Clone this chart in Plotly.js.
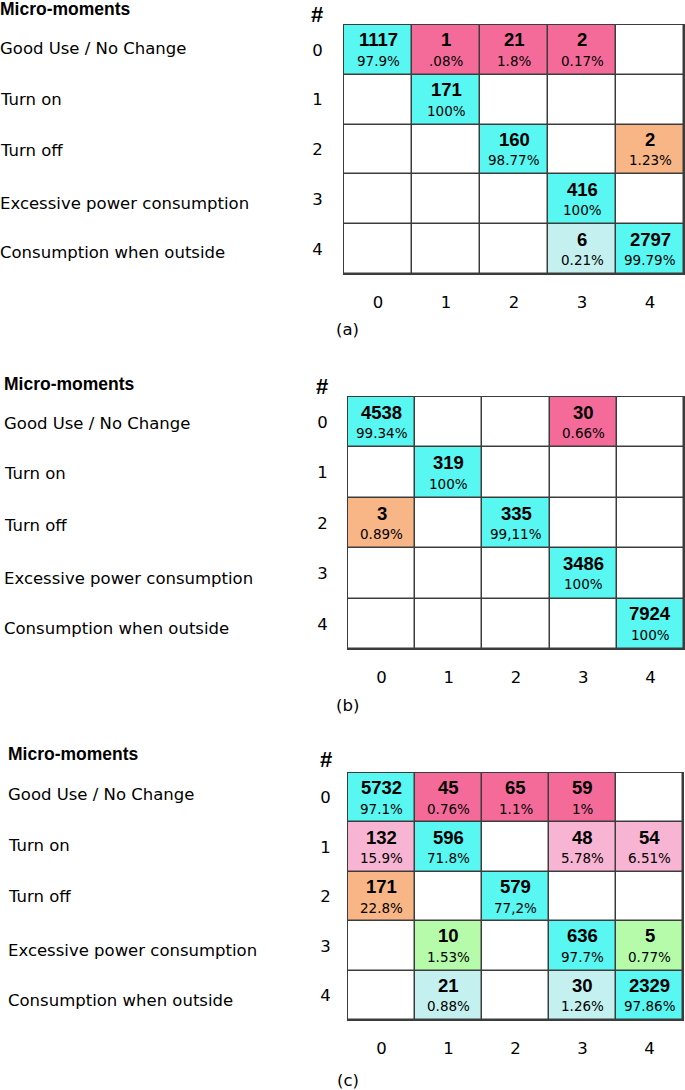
<!DOCTYPE html>
<html>
<head>
<meta charset="utf-8">
<script src="https://cdn.plot.ly/plotly-3.0.1.min.js"></script>
<style>html,body{margin:0;padding:0;background:#fff;}#chart{width:685px;height:1090px;}</style>
</head>
<body>
<div id="chart"></div>
<script>
// ---- data ----
const classLabels = ["Good Use / No Change", "Turn on", "Turn off", "Excessive power consumption", "Consumption when outside"];
const classIds = ["0", "1", "2", "3", "4"];
const panelTags = ["(a)", "(b)", "(c)"];

const countsA = [
  [1117, 1, 21, 2, null],
  [null, 171, null, null, null],
  [null, null, 160, null, 2],
  [null, null, null, 416, null],
  [null, null, null, 6, 2797]
];
const pctA = [
  ["97.9%", ".08%", "1.8%", "0.17%", null],
  [null, "100%", null, null, null],
  [null, null, "98.77%", null, "1.23%"],
  [null, null, null, "100%", null],
  [null, null, null, "0.21%", "99.79%"]
];
const countsB = [
  [4538, null, null, 30, null],
  [null, 319, null, null, null],
  [3, null, 335, null, null],
  [null, null, null, 3486, null],
  [null, null, null, null, 7924]
];
const pctB = [
  ["99.34%", null, null, "0.66%", null],
  [null, "100%", null, null, null],
  ["0.89%", null, "99,11%", null, null],
  [null, null, null, "100%", null],
  [null, null, null, null, "100%"]
];
const countsC = [
  [5732, 45, 65, 59, null],
  [132, 596, null, 48, 54],
  [171, null, 579, null, null],
  [null, 10, null, 636, 5],
  [null, 21, null, 30, 2329]
];
const pctC = [
  ["97.1%", "0.76%", "1.1%", "1%", null],
  ["15.9%", "71.8%", null, "5.78%", "6.51%"],
  ["22.8%", null, "77,2%", null, null],
  [null, "1.53%", null, "97.7%", "0.77%"],
  [null, "0.88%", null, "1.26%", "97.86%"]
];

// ---- styling ----
const W = 685, H = 1090;
const GRID = '#3c3c3c';
const colorscale = [
  [0, '#ffffff'],        // empty
  [1/6, '#58f7f2'],      // diagonal
  [2/6, '#f46b9a'],      // row 0 errors
  [3/6, '#f8b5d3'],      // row 1 errors
  [4/6, '#f8b585'],      // row 2 errors
  [5/6, '#b5fba9'],      // row 3 errors
  [1, '#c4f1ef']         // row 4 errors
];
const panels = [
  {counts: countsA, pct: pctA, box: [344, 684, 25, 274], labelX: -2, labelY: [9.5, 48, 99, 150, 203, 252], hashX: 317, hashY: 14, tagX: 348, tagY: 330, ylen: 17},
  {counts: countsB, pct: pctB, box: [348, 684, 397, 649], labelX: 2, labelY: [384, 423, 474, 525, 578, 628], hashX: 322, hashY: 387, tagX: 348, tagY: 705, ylen: 16},
  {counts: countsC, pct: pctC, box: [348, 683, 773, 1020], labelX: 6, labelY: [754, 794, 845, 896, 950, 1000], hashX: 326, hashY: 759, tagX: 348, tagY: 1080, ylen: 13}
];

const px = x => x / W;
const py = y => 1 - y / H;

const traces = [];
const annotations = [];
const layout = {
  width: W, height: H,
  margin: {l: 0, r: 0, t: 0, b: 0},
  paper_bgcolor: '#ffffff',
  plot_bgcolor: GRID,
  showlegend: false,
  font: {family: 'DejaVu Sans', color: '#000'},
  annotations: annotations
};

panels.forEach((p, k) => {
  const sfx = k === 0 ? '' : String(k + 1);
  const xa = 'x' + sfx, ya = 'y' + sfx;
  const z = p.counts.map((row, i) => row.map((v, j) => v === null ? 0 : (i === j ? 1 : i + 2)));
  traces.push({
    type: 'heatmap', xaxis: xa, yaxis: ya,
    x: [0, 1, 2, 3, 4], y: [0, 1, 2, 3, 4], z: z,
    zmin: 0, zmax: 6, colorscale: colorscale, showscale: false,
    xgap: 1.5, ygap: 1.5, hoverinfo: 'skip'
  });
  layout['xaxis' + sfx] = {
    domain: [px(p.box[0]), px(p.box[1])], anchor: ya,
    range: [-0.5, 4.5], fixedrange: true,
    tickvals: [0, 1, 2, 3, 4], ticktext: classIds,
    ticks: 'outside', ticklen: 13, tickcolor: 'rgba(0,0,0,0)',
    tickfont: {family: 'DejaVu Sans', size: 16.5, color: '#000'},
    showgrid: false, zeroline: false,
    showline: true, mirror: true, linecolor: GRID, linewidth: 1
  };
  layout['yaxis' + sfx] = {
    domain: [py(p.box[3]), py(p.box[2])], anchor: xa,
    range: [4.5, -0.5], fixedrange: true,
    tickvals: [0, 1, 2, 3, 4], ticktext: classIds,
    ticks: 'outside', ticklen: p.ylen, tickcolor: 'rgba(0,0,0,0)',
    tickfont: {family: 'DejaVu Sans', size: 16.5, color: '#000'},
    showgrid: false, zeroline: false,
    showline: true, mirror: true, linecolor: GRID, linewidth: 1
  };
  // header
  annotations.push({xref: 'paper', yref: 'paper', x: px(p.labelX), y: py(p.labelY[0]),
    xanchor: 'left', yanchor: 'middle', showarrow: false, text: '<b>Micro-moments</b>',
    font: {family: 'Liberation Sans', size: 17.5, color: '#000'}});
  annotations.push({xref: 'paper', yref: 'paper', x: px(p.hashX), y: py(p.hashY),
    xanchor: 'center', yanchor: 'middle', showarrow: false, text: '<b>#</b>',
    font: {family: 'Liberation Sans', size: 22, color: '#000'}});
  classLabels.forEach((lab, i) => {
    annotations.push({xref: 'paper', yref: 'paper', x: px(p.labelX), y: py(p.labelY[i + 1]),
      xanchor: 'left', yanchor: 'middle', showarrow: false, text: lab,
      font: {family: 'DejaVu Sans', size: 16.5, color: '#000'}});
  });
  annotations.push({xref: 'paper', yref: 'paper', x: px(p.tagX), y: py(p.tagY),
    xanchor: 'center', yanchor: 'middle', showarrow: false, text: panelTags[k],
    font: {family: 'DejaVu Sans', size: 16.5, color: '#000'}});
  // cell texts
  p.counts.forEach((row, i) => row.forEach((v, j) => {
    if (v === null) return;
    annotations.push({xref: xa, yref: ya, x: j, y: i, yshift: 10, showarrow: false,
      text: '<b>' + v + '</b>', xanchor: 'center', yanchor: 'middle',
      font: {family: 'Liberation Sans', size: 18.5, color: '#000'}});
    annotations.push({xref: xa, yref: ya, x: j, y: i, yshift: -11, showarrow: false,
      text: p.pct[i][j], xanchor: 'center', yanchor: 'middle',
      font: {family: 'DejaVu Sans', size: 13.5, color: '#000'}});
  }));
});

Plotly.newPlot('chart', traces, layout, {displayModeBar: false, staticPlot: true});
</script>
</body>
</html>
